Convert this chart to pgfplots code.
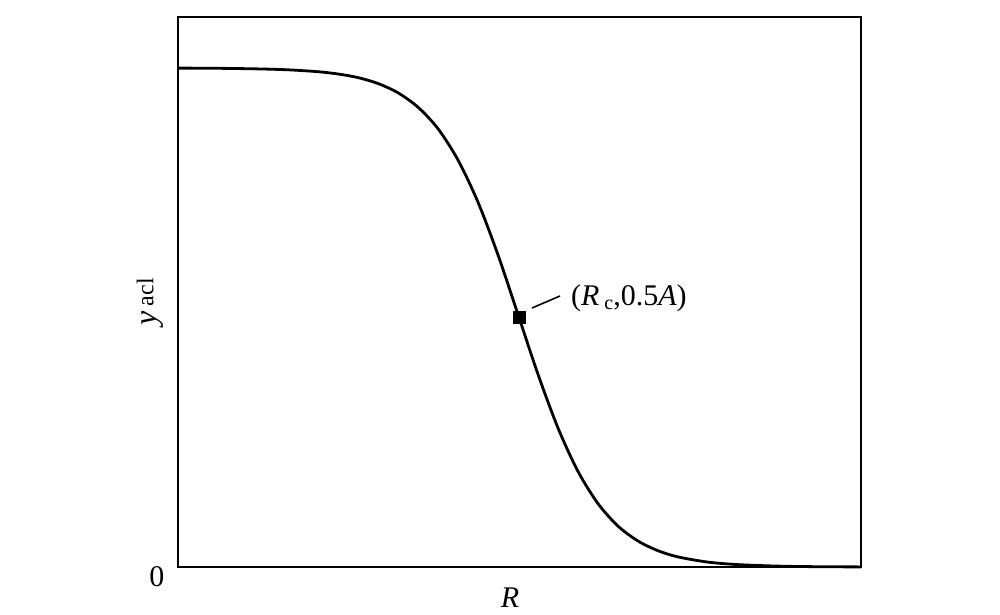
\documentclass[border=0pt]{standalone}
\usepackage{fontspec}
\setmainfont{Liberation Serif}
\usepackage{pgfplots}
\pgfplotsset{compat=1.18}
\begin{document}
\begin{tikzpicture}
\begin{axis}[
 scale only axis, width=341.5pt, height=275pt,
 xmin=0,xmax=683,ymin=0,ymax=550,
 xtick=\empty, ytick=\empty,
 axis line style={line width=1pt},
 clip=false,
]
\addplot[black, line width=1.4pt, smooth] coordinates {
(0,498.9) (40,498.7) (80,498.1) (110,497.2) (140,495.3) (160,493.0) (180,489.4)
(200,483.5) (220,474.2) (240,459.8) (260,438.3) (280,407.0) (300,364.8) (320,312.1)
(341,249.5) (360,192.7) (380,139.0) (400,95.6) (420,63.4) (440,40.9) (460,26.0)
(480,16.3) (500,10.1) (530,4.9) (560,2.4) (600,0.9) (640,0.3) (683,0.1)
};
\addplot[only marks, mark=square*, mark size=3pt, black] coordinates {(341,249.5)};
\draw[line width=0.8pt] (axis cs:354,259) -- (axis cs:382,271);
\node[anchor=west, font=\fontsize{15}{17}\selectfont] at (axis cs:386,269) {(\textit{R}\,\raisebox{-0.3ex}{\fontsize{10}{12}\selectfont c},0.5\textit{A})};
\node[font=\fontsize{15}{17}\selectfont] at (axis cs:-21,-10) {0};
\node[font=\fontsize{15}{17}\selectfont] at (axis cs:332,-31) {\textit{R}};
\node[rotate=90, font=\fontsize{16}{18}\selectfont] at (axis cs:-28,265) {\textit{y}\,\raisebox{0.2ex}{\fontsize{12}{14}\selectfont acl}};
\path (axis cs:-178,567) rectangle (axis cs:822,-47);
\end{axis}
\end{tikzpicture}
\end{document}
